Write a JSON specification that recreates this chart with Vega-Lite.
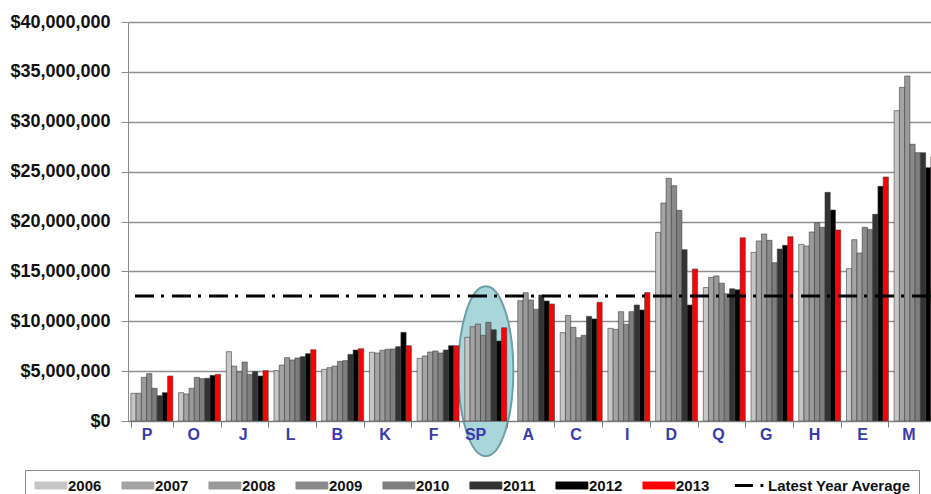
{
  "$schema": "https://vega.github.io/schema/vega-lite/v6.json",
  "width": 803,
  "height": 399,
  "autosize": {"type": "none"},
  "padding": {"left": 128, "top": 22, "right": 0, "bottom": 73},
  "background": "white",
  "config": {"view": {"stroke": null}, "font": "Liberation Sans"},
  "layer": [
    {
      "data": {"values": [{"region": "SP"}]},
      "mark": {
        "type": "point",
        "filled": true,
        "opacity": 1,
        "shape": "M0,-1C0.179,-1,0.324,-0.552,0.324,0C0.324,0.552,0.179,1,0,1C-0.179,1,-0.324,0.552,-0.324,0C-0.324,-0.552,-0.179,-1,0,-1Z",
        "size": 28900,
        "fill": "#a9d6db",
        "stroke": "#6c9ea3",
        "strokeWidth": 2
      },
      "encoding": {
        "x": {"field": "region", "type": "nominal"},
        "y": {"datum": 5000000, "type": "quantitative"}
      }
    },
    {
      "data": {
        "values": [
          {"region": "P", "series": "2006", "revenue": 2780000},
          {"region": "P", "series": "2007", "revenue": 2780000},
          {"region": "P", "series": "2008", "revenue": 4380000},
          {"region": "P", "series": "2009", "revenue": 4750000},
          {"region": "P", "series": "2010", "revenue": 3280000},
          {"region": "P", "series": "2011", "revenue": 2540000},
          {"region": "P", "series": "2012", "revenue": 2840000},
          {"region": "P", "series": "2013", "revenue": 4510000},
          {"region": "O", "series": "2006", "revenue": 2840000},
          {"region": "O", "series": "2007", "revenue": 2710000},
          {"region": "O", "series": "2008", "revenue": 3280000},
          {"region": "O", "series": "2009", "revenue": 4380000},
          {"region": "O", "series": "2010", "revenue": 4240000},
          {"region": "O", "series": "2011", "revenue": 4280000},
          {"region": "O", "series": "2012", "revenue": 4580000},
          {"region": "O", "series": "2013", "revenue": 4680000},
          {"region": "J", "series": "2006", "revenue": 6950000},
          {"region": "J", "series": "2007", "revenue": 5510000},
          {"region": "J", "series": "2008", "revenue": 4910000},
          {"region": "J", "series": "2009", "revenue": 5910000},
          {"region": "J", "series": "2010", "revenue": 4680000},
          {"region": "J", "series": "2011", "revenue": 4950000},
          {"region": "J", "series": "2012", "revenue": 4510000},
          {"region": "J", "series": "2013", "revenue": 5050000},
          {"region": "L", "series": "2006", "revenue": 5050000},
          {"region": "L", "series": "2007", "revenue": 5610000},
          {"region": "L", "series": "2008", "revenue": 6350000},
          {"region": "L", "series": "2009", "revenue": 6120000},
          {"region": "L", "series": "2010", "revenue": 6320000},
          {"region": "L", "series": "2011", "revenue": 6450000},
          {"region": "L", "series": "2012", "revenue": 6750000},
          {"region": "L", "series": "2013", "revenue": 7150000},
          {"region": "B", "series": "2006", "revenue": 5180000},
          {"region": "B", "series": "2007", "revenue": 5350000},
          {"region": "B", "series": "2008", "revenue": 5510000},
          {"region": "B", "series": "2009", "revenue": 5980000},
          {"region": "B", "series": "2010", "revenue": 6050000},
          {"region": "B", "series": "2011", "revenue": 6680000},
          {"region": "B", "series": "2012", "revenue": 7120000},
          {"region": "B", "series": "2013", "revenue": 7250000},
          {"region": "K", "series": "2006", "revenue": 6890000},
          {"region": "K", "series": "2007", "revenue": 6820000},
          {"region": "K", "series": "2008", "revenue": 7090000},
          {"region": "K", "series": "2009", "revenue": 7190000},
          {"region": "K", "series": "2010", "revenue": 7220000},
          {"region": "K", "series": "2011", "revenue": 7450000},
          {"region": "K", "series": "2012", "revenue": 8890000},
          {"region": "K", "series": "2013", "revenue": 7550000},
          {"region": "F", "series": "2006", "revenue": 6280000},
          {"region": "F", "series": "2007", "revenue": 6520000},
          {"region": "F", "series": "2008", "revenue": 6920000},
          {"region": "F", "series": "2009", "revenue": 7020000},
          {"region": "F", "series": "2010", "revenue": 6820000},
          {"region": "F", "series": "2011", "revenue": 7120000},
          {"region": "F", "series": "2012", "revenue": 7550000},
          {"region": "F", "series": "2013", "revenue": 7550000},
          {"region": "SP", "series": "2006", "revenue": 8390000},
          {"region": "SP", "series": "2007", "revenue": 9450000},
          {"region": "SP", "series": "2008", "revenue": 9720000},
          {"region": "SP", "series": "2009", "revenue": 8590000},
          {"region": "SP", "series": "2010", "revenue": 9890000},
          {"region": "SP", "series": "2011", "revenue": 9150000},
          {"region": "SP", "series": "2012", "revenue": 8020000},
          {"region": "SP", "series": "2013", "revenue": 9350000},
          {"region": "A", "series": "2007", "revenue": 12060000},
          {"region": "A", "series": "2008", "revenue": 12860000},
          {"region": "A", "series": "2009", "revenue": 12130000},
          {"region": "A", "series": "2010", "revenue": 11200000},
          {"region": "A", "series": "2011", "revenue": 12630000},
          {"region": "A", "series": "2012", "revenue": 12030000},
          {"region": "A", "series": "2013", "revenue": 11730000},
          {"region": "C", "series": "2006", "revenue": 8860000},
          {"region": "C", "series": "2007", "revenue": 10590000},
          {"region": "C", "series": "2008", "revenue": 9390000},
          {"region": "C", "series": "2009", "revenue": 8350000},
          {"region": "C", "series": "2010", "revenue": 8590000},
          {"region": "C", "series": "2011", "revenue": 10490000},
          {"region": "C", "series": "2012", "revenue": 10230000},
          {"region": "C", "series": "2013", "revenue": 11900000},
          {"region": "I", "series": "2006", "revenue": 9290000},
          {"region": "I", "series": "2007", "revenue": 9190000},
          {"region": "I", "series": "2008", "revenue": 10960000},
          {"region": "I", "series": "2009", "revenue": 9690000},
          {"region": "I", "series": "2010", "revenue": 10960000},
          {"region": "I", "series": "2011", "revenue": 11630000},
          {"region": "I", "series": "2012", "revenue": 11130000},
          {"region": "I", "series": "2013", "revenue": 12870000},
          {"region": "D", "series": "2006", "revenue": 18910000},
          {"region": "D", "series": "2007", "revenue": 21850000},
          {"region": "D", "series": "2008", "revenue": 24330000},
          {"region": "D", "series": "2009", "revenue": 23590000},
          {"region": "D", "series": "2010", "revenue": 21120000},
          {"region": "D", "series": "2011", "revenue": 17180000},
          {"region": "D", "series": "2012", "revenue": 11630000},
          {"region": "D", "series": "2013", "revenue": 15240000},
          {"region": "Q", "series": "2006", "revenue": 13380000},
          {"region": "Q", "series": "2007", "revenue": 14400000},
          {"region": "Q", "series": "2008", "revenue": 14540000},
          {"region": "Q", "series": "2009", "revenue": 13820000},
          {"region": "Q", "series": "2010", "revenue": 12760000},
          {"region": "Q", "series": "2011", "revenue": 13250000},
          {"region": "Q", "series": "2012", "revenue": 13150000},
          {"region": "Q", "series": "2013", "revenue": 18370000},
          {"region": "G", "series": "2006", "revenue": 16910000},
          {"region": "G", "series": "2007", "revenue": 18050000},
          {"region": "G", "series": "2008", "revenue": 18750000},
          {"region": "G", "series": "2009", "revenue": 18110000},
          {"region": "G", "series": "2010", "revenue": 15870000},
          {"region": "G", "series": "2011", "revenue": 17240000},
          {"region": "G", "series": "2012", "revenue": 17610000},
          {"region": "G", "series": "2013", "revenue": 18480000},
          {"region": "H", "series": "2006", "revenue": 17710000},
          {"region": "H", "series": "2007", "revenue": 17550000},
          {"region": "H", "series": "2008", "revenue": 18950000},
          {"region": "H", "series": "2009", "revenue": 19880000},
          {"region": "H", "series": "2010", "revenue": 19420000},
          {"region": "H", "series": "2011", "revenue": 22920000},
          {"region": "H", "series": "2012", "revenue": 21150000},
          {"region": "H", "series": "2013", "revenue": 19150000},
          {"region": "E", "series": "2006", "revenue": 15270000},
          {"region": "E", "series": "2007", "revenue": 18180000},
          {"region": "E", "series": "2008", "revenue": 16840000},
          {"region": "E", "series": "2009", "revenue": 19420000},
          {"region": "E", "series": "2010", "revenue": 19210000},
          {"region": "E", "series": "2011", "revenue": 20720000},
          {"region": "E", "series": "2012", "revenue": 23530000},
          {"region": "E", "series": "2013", "revenue": 24460000},
          {"region": "M", "series": "2006", "revenue": 31110000},
          {"region": "M", "series": "2007", "revenue": 33450000},
          {"region": "M", "series": "2008", "revenue": 34590000},
          {"region": "M", "series": "2009", "revenue": 27740000},
          {"region": "M", "series": "2010", "revenue": 26900000},
          {"region": "M", "series": "2011", "revenue": 26900000},
          {"region": "M", "series": "2012", "revenue": 25400000},
          {"region": "M", "series": "2013", "revenue": 26500000}
        ]
      },
      "mark": {"type": "bar", "stroke": "#404040", "strokeWidth": 0.6},
      "encoding": {
        "x": {
          "field": "region",
          "type": "nominal",
          "scale": {
            "domain": ["P", "O", "J", "L", "B", "K", "F", "SP", "A", "C", "I", "D", "Q", "G", "H", "E", "M"],
            "range": [0, 811],
            "paddingInner": 0.12,
            "paddingOuter": 0.06
          },
          "axis": {
            "title": null,
            "labelAngle": 0,
            "labelFont": "Liberation Sans",
            "labelFontWeight": "bold",
            "labelFontSize": 16,
            "labelColor": "#3a3aa8",
            "tickBand": "extent",
            "tickSize": 6,
            "labelPadding": 7,
            "domainColor": "#7a7a7a",
            "tickColor": "#7a7a7a",
            "grid": false,
            "zindex": 1
          }
        },
        "xOffset": {
          "field": "series",
          "type": "nominal",
          "scale": {
            "domain": ["2006", "2007", "2008", "2009", "2010", "2011", "2012", "2013"],
            "paddingInner": 0,
            "paddingOuter": 0
          }
        },
        "y": {
          "field": "revenue",
          "type": "quantitative",
          "stack": null,
          "scale": {"domain": [0, 40000000]},
          "axis": {
            "title": null,
            "values": [0, 5000000, 10000000, 15000000, 20000000, 25000000, 30000000, 35000000, 40000000],
            "format": "$,.0f",
            "labelFont": "Liberation Sans",
            "labelFontWeight": "bold",
            "labelFontSize": 18,
            "labelColor": "#111111",
            "labelPadding": 11,
            "tickSize": 7,
            "tickColor": "#8a8a8a",
            "domainColor": "#8a8a8a",
            "grid": true,
            "gridColor": "#8f8f8f",
            "gridWidth": 1.3,
            "zindex": 0
          }
        },
        "color": {
          "field": "series",
          "type": "nominal",
          "scale": {
            "domain": ["2006", "2007", "2008", "2009", "2010", "2011", "2012", "2013", "Latest Year Average"],
            "range": ["#c6c6c6", "#a4a4a4", "#9a9a9a", "#8a8a8a", "#7e7e7e", "#333333", "#000000", "#ff0000", "#000000"]
          },
          "legend": {
            "title": null,
            "orient": "none",
            "legendX": -103,
            "legendY": 448,
            "direction": "horizontal",
            "columns": 9,
            "gridAlign": "none",
            "columnPadding": 18,
            "padding": 8,
            "strokeColor": "#8c8c8c",
            "fillColor": "white",
            "symbolType": "M-0.7,-0.45H3.3V0.45H-0.7Z",
            "symbolSize": 256,
            "symbolStrokeColor": "#444444",
            "symbolStrokeWidth": 0.8,
            "labelFont": "Liberation Sans",
            "labelFontWeight": "bold",
            "labelFontSize": 15,
            "labelColor": "#111111",
            "labelOffset": 20,
            "labelLimit": 220,
            "encode": {
              "symbols": {
                "update": {
                  "shape": {"signal": "datum.value === 'Latest Year Average' ? 'M-0.7,0H1.55M2.5,0H2.85' : 'M-0.7,-0.45H3.3V0.45H-0.7Z'"},
                  "fill": {"signal": "datum.value === 'Latest Year Average' ? 'transparent' : scale('color', datum.value)"},
                  "stroke": {"signal": "datum.value === 'Latest Year Average' ? '#000000' : '#444444'"},
                  "strokeWidth": {"signal": "datum.value === 'Latest Year Average' ? 3 : 0.8"},
                  "strokeCap": {"value": "butt"},
                  "opacity": {"value": 1}
                }
              }
            }
          }
        }
      }
    },
    {
      "data": {"values": [{"series": "Latest Year Average", "revenue": 12530000}]},
      "mark": {"type": "rule", "strokeDash": [19, 8, 3, 7], "strokeWidth": 3},
      "encoding": {
        "y": {"field": "revenue", "type": "quantitative"},
        "color": {"field": "series", "type": "nominal"}
      }
    }
  ]
}
